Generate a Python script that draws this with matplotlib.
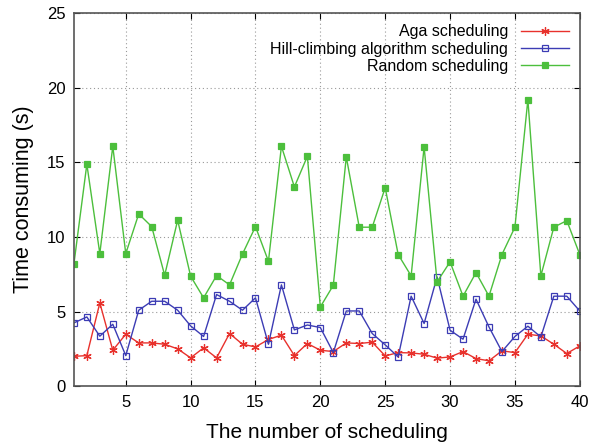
import matplotlib
matplotlib.use("Agg")
import matplotlib.pyplot as plt

plt.rcParams['font.family'] = ['Liberation Sans', 'DejaVu Sans']

# x positions
runs = list(range(1, 41))

# time consuming (s) per scheduling run
aga = [2.0, 2.05, 5.58, 2.41, 3.48, 2.9, 2.9, 2.81, 2.5, 1.9,
       2.57, 1.9, 3.53, 2.81, 2.63, 3.13, 3.42, 2.05, 2.86, 2.41,
       2.32, 2.9, 2.86, 2.95, 2.03, 2.25, 2.23, 2.14, 1.88, 1.96,
       2.32, 1.85, 1.7, 2.37, 2.25, 3.48, 3.37, 2.81, 2.19, 2.7]
hill = [4.24, 4.64, 3.35, 4.15, 2.05, 5.09, 5.69, 5.69, 5.09, 4.04,
        3.33, 6.14, 5.69, 5.09, 5.92, 2.81, 6.79, 3.77, 4.1, 3.93,
        2.25, 5.04, 5.04, 3.53, 2.77, 1.96, 6.03, 4.2, 7.32, 3.75,
        3.15, 5.83, 3.97, 2.32, 3.33, 4.02, 3.3, 6.03, 6.03, 5.04]
rand = [8.17, 14.87, 8.88, 16.07, 8.88, 11.54, 10.69, 7.43, 11.12, 7.37,
        5.92, 7.41, 6.79, 8.86, 10.69, 8.37, 16.07, 13.35, 15.4, 5.31,
        6.76, 15.36, 10.65, 10.65, 13.3, 8.82, 7.39, 16.03, 6.99, 8.33,
        6.03, 7.61, 6.03, 8.82, 10.65, 19.2, 7.39, 10.65, 11.09, 8.82]

labels = ['Aga scheduling', 'Hill-climbing algorithm scheduling', 'Random scheduling']

fig = plt.figure(figsize=(5.91, 4.47), dpi=100)
ax = fig.add_axes([0.125, 0.136, 0.856, 0.835])

ax.plot(runs, aga, color='#e8312c', lw=1.0, marker=(6, 2, 0), ms=6, mew=0.9,
        label=labels[0])
ax.plot(runs, hill, color='#3c3cb4', lw=1.0, marker='s', ms=5, mfc='none', mew=0.9,
        label=labels[1])
ax.plot(runs, rand, color='#4cbf3c', lw=1.0, marker='s', ms=5, mew=0.9,
        label=labels[2])

ax.set_xlim(1, 40)
ax.set_ylim(0, 25)
ax.set_xticks([5, 10, 15, 20, 25, 30, 35, 40])
ax.set_yticks([0, 5, 10, 15, 20, 25])
ax.grid(True, color='#999999', linestyle=(0, (1, 2.5)), lw=0.8)
ax.tick_params(direction='in', top=True, right=True, labelsize=12, length=4, pad=6)
for s in ax.spines.values():
    s.set_color('#555555')
    s.set_linewidth(1.2)

ax.set_xlabel('The number of scheduling', fontsize=15, labelpad=10)
ax.set_ylabel('Time consuming (s)', fontsize=15.5, labelpad=9)

leg = ax.legend(loc='upper right', markerfirst=False, frameon=False, fontsize=11.5,
                handlelength=3, labelspacing=0.15, borderaxespad=0.3)
for t in leg.get_texts():
    t.set_ha('right')

fig.savefig('out.png', dpi=100)
